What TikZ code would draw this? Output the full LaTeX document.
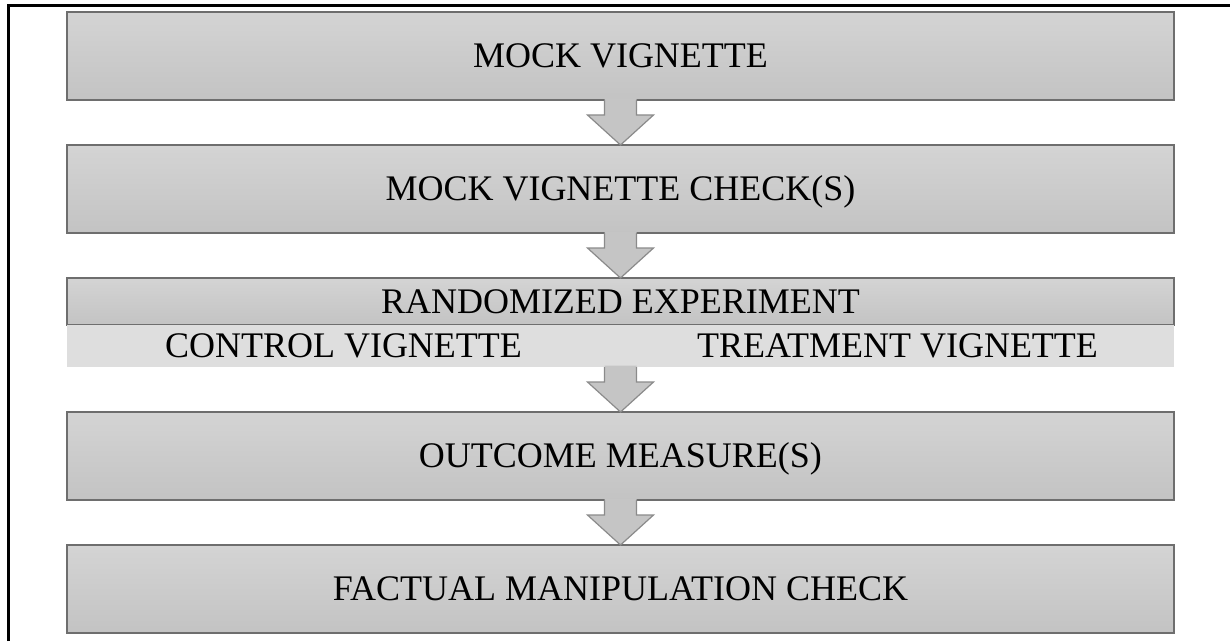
\documentclass[tikz,border=0pt]{standalone}
\usepackage{fontspec}
\setmainfont{Liberation Serif}
\usetikzlibrary{positioning,calc}
\definecolor{boxtop}{HTML}{D4D4D4}
\definecolor{boxbot}{HTML}{C3C3C3}
\definecolor{boxline}{HTML}{6E6E6E}
\definecolor{bandfill}{HTML}{DEDEDE}
\tikzset{
	box/.style={rectangle,draw=boxline,line width=1.4pt,top color=boxtop,bottom color=boxbot,
		minimum width=1107pt,minimum height=88pt,outer sep=0pt,inner sep=0pt,
		text height=23pt,text depth=0pt,font=\fontsize{36}{42}\selectfont},
	band/.style={rectangle,fill=bandfill,minimum width=1107pt,minimum height=42pt,outer sep=0pt,inner sep=0pt},
	lbl/.style={inner sep=0pt,text height=23pt,text depth=0pt,font=\fontsize{36}{42}\selectfont},
	arrfill/.style={fill=boxbot!90!boxtop},
	arrline/.style={draw=boxline!80,line width=1.2pt,line join=miter}
}
\begin{document}
\begin{tikzpicture}[x=1pt,y=1pt,node distance=45pt]
	\useasboundingbox (0,0) rectangle (1230,641);
	\draw [line width=2.7pt] (8.7,0) -- (8.7,635.7) -- (1230,635.7);

	\node [box] (mock) at (620.5,585) {MOCK VIGNETTE};
	\node [box,below=of mock] (check) {MOCK VIGNETTE CHECK(S)};
	\node [box,minimum height=47pt,below=of check] (rand) {RANDOMIZED EXPERIMENT};
	\node [band,below=0pt of rand] (band) {};
	\node [lbl] (control) at ([xshift=-277pt]band.center) {CONTROL VIGNETTE};
	\node [lbl] (treatment) at ([xshift=277pt]band.center) {TREATMENT VIGNETTE};
	\node [box,below=of band] (outcome) {OUTCOME MEASURE(S)};
	\node [box,below=of outcome] (factual) {FACTUAL MANIPULATION CHECK};

	\foreach \a/\b in {mock/check,check/rand,band/outcome,outcome/factual}{
		\fill [arrfill] ($(\a.south)+(-16,1.5)$) -- ($(\a.south)+(16,1.5)$) -- ($(\b.north)+(16,30)$)
			-- ($(\b.north)+(33,30)$) -- (\b.north) -- ($(\b.north)+(-33,30)$) -- ($(\b.north)+(-16,30)$) -- cycle;
		\draw [arrline] ($(\a.south)+(16,0)$) -- ($(\b.north)+(16,30)$) -- ($(\b.north)+(33,30)$)
			-- (\b.north) -- ($(\b.north)+(-33,30)$) -- ($(\b.north)+(-16,30)$) -- ($(\a.south)+(-16,0)$);
	}
\end{tikzpicture}
\end{document}
